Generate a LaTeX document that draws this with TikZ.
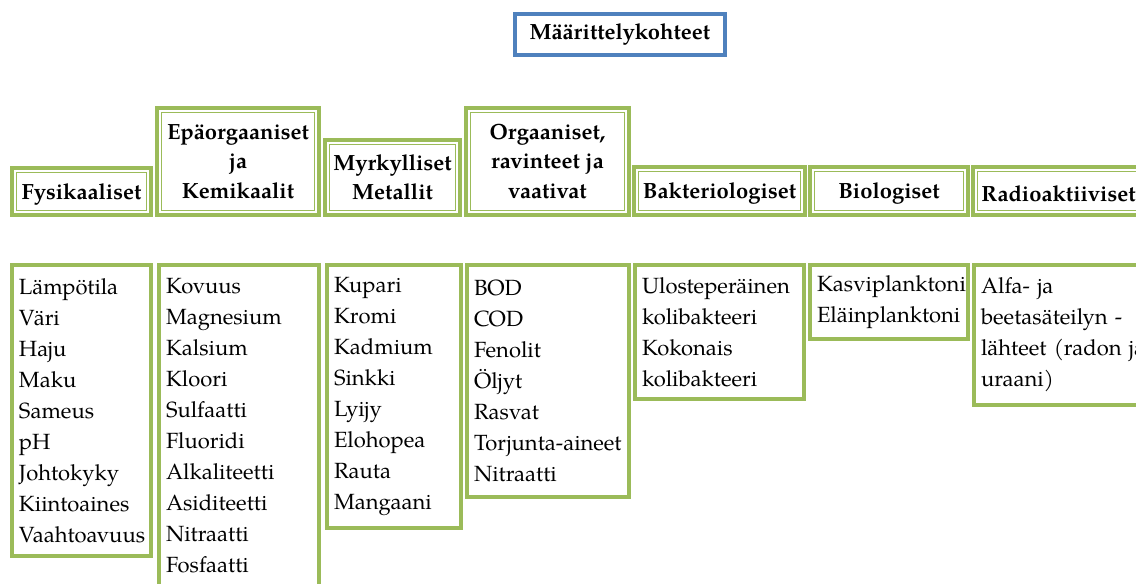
\documentclass[tikz,border=0pt]{standalone}
\usepackage{fontspec}
\setmainfont{TeX Gyre Pagella}
\definecolor{boxgreen}{HTML}{9BBB59}
\definecolor{boxblue}{HTML}{4F81BD}
\newcommand{\listfont}{\fontsize{22}{31}\selectfont\hyphenpenalty10000\relax\exhyphenpenalty10000\relax}
\tikzset{
  headbox/.style={draw=boxgreen, line width=4pt, fill=white, align=center,
    anchor=south west, inner sep=2pt,
    font=\bfseries\fontsize{22}{29.5}\selectfont,
    execute at begin node={\rule{0pt}{21pt}}},
  innerline/.style={draw=boxgreen, line width=1.3pt},
  listbox/.style={draw=boxgreen, line width=4pt, align=left,
    anchor=north west, inner xsep=7pt, inner ysep=0pt, font=\listfont},
  titlebox/.style={draw=boxblue, line width=4pt, anchor=north west,
    font=\bfseries\fontsize{22}{26}\selectfont},
}
\begin{document}
\begin{tikzpicture}[x=1pt, y=-1pt]
  \def\Yhead{217};
  \def\Ylist{263};

  \useasboundingbox (0,0) rectangle (1136,584);
  \clip (0,0) rectangle (1136,584);

  % title
  \node[titlebox, minimum width=210pt, minimum height=41pt] (title) at (513,12) {Määrittelykohteet};

  % headings
  \node[headbox, minimum width=139pt, minimum height=47pt] (fys) at (10,\Yhead) {Fysikaaliset};
  \node[headbox, minimum width=162pt, minimum height=107pt] (epa) at (155,\Yhead) {Epäorgaaniset\\ja\\Kemikaalit};
  \node[headbox, minimum width=135pt, minimum height=75pt] (myr) at (323,\Yhead) {Myrkylliset\\Metallit};
  \node[headbox, minimum width=163pt, minimum height=107pt] (org) at (464,\Yhead) {Orgaaniset,\\ravinteet ja\\vaativat};
  \node[headbox, minimum width=171pt, minimum height=48pt] (bak) at (632,\Yhead) {Bakteriologiset};
  \node[headbox, minimum width=158pt, minimum height=48pt] (bio) at (808,\Yhead) {Biologiset};
  \node[headbox, minimum width=171pt, minimum height=48pt] (rad) at (971,\Yhead) {Radioaktiiviset};

  \foreach \n in {fys,epa,myr,org,bak,bio,rad}
    \draw[innerline] ([xshift=6.5pt,yshift=-6.5pt]\n.north west) rectangle ([xshift=-6.5pt,yshift=6.5pt]\n.south east);

  % lists
  \node[listbox, text width=125pt, minimum height=291pt] (fysL) at (10,\Ylist)
    {Lämpötila\\Väri\\Haju\\Maku\\Sameus\\pH\\Johtokyky\\Kiintoaines\\Vaahtoavuus};
  \node[listbox, text width=146pt, minimum height=322pt] (epaL) at (157,\Ylist)
    {Kovuus\\Magnesium\\Kalsium\\Kloori\\Sulfaatti\\Fluoridi\\Alkaliteetti\\Asiditeetti\\Nitraatti\\Fosfaatti};
  \node[listbox, text width=120pt, minimum height=263pt] (myrL) at (325,\Ylist)
    {Kupari\\Kromi\\Kadmium\\Sinkki\\Lyijy\\Elohopea\\Rauta\\Mangaani};
  \node[listbox, text width=148pt, minimum height=232pt] (orgL) at (465,\Ylist)
    {BOD\\COD\\Fenolit\\Öljyt\\Rasvat\\Torjunta-aineet\\Nitraatti};
  \node[listbox, text width=155pt, minimum height=134pt] (bakL) at (633,\Ylist)
    {Ulosteperäinen\\kolibakteeri\\Kokonais\\kolibakteeri};
  \node[listbox, text width=144pt, minimum height=74pt] (bioL) at (808,\Ylist)
    {Kasviplanktoni\\Eläinplanktoni};
  \node[listbox, text width=170pt, minimum height=140pt] (radL) at (972,\Ylist)
    {Alfa- ja\\beetasäteilyn -\\lähteet (radon ja\\uraani)};
\end{tikzpicture}
\end{document}
